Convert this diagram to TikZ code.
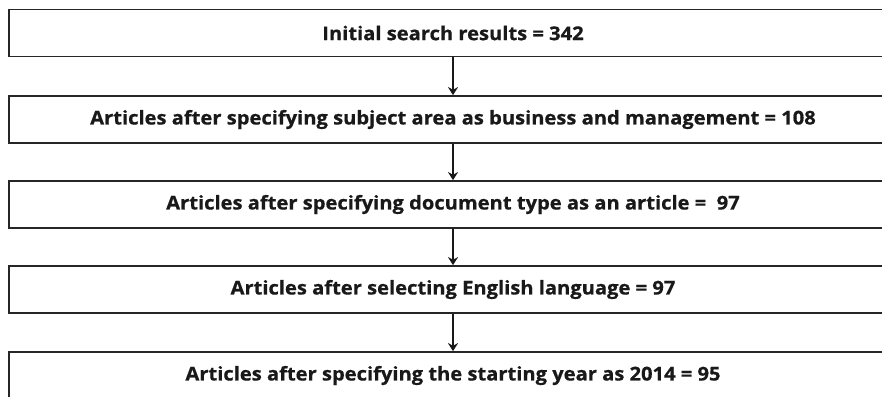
\documentclass[tikz,border=0pt]{standalone}
\usepackage{fontspec}
\setmainfont{Open Sans}[BoldFeatures={FakeStretch=1.06,FakeBold=0.6}]
\usetikzlibrary{arrows.meta}
\tikzset{
  stagebox/.style={draw=black!85, line width=1.7pt, minimum width=888pt, minimum height=47pt,
    inner sep=0pt, font=\bfseries\fontsize{19}{22}\selectfont, text=black!90},
  flowarrow/.style={draw=black!90, line width=1.7pt, -{Stealth[length=8pt,width=10pt,inset=2.5pt]}}
}
\begin{document}
\begin{tikzpicture}[x=1pt,y=-1pt]
\useasboundingbox (0,0) rectangle (882,396);
\clip (0,0) rectangle (882,396);
\fill[white] (0,0) rectangle (882,396);
\node[stagebox] (s1) at (453,33)    {Initial search results = 342};
\node[stagebox] (s2) at (453,119.5) {Articles after specifying subject area as business and management = 108};
\node[stagebox] (s3) at (453,204.5) {Articles after specifying document type as an article =\ \ 97};
\node[stagebox] (s4) at (453,289.5) {Articles after selecting English language = 97};
\node[stagebox] (s5) at (453,375.5) {Articles after specifying the starting year as 2014 = 95};
\draw[flowarrow] (s1) -- (s2);
\draw[flowarrow] (s2) -- (s3);
\draw[flowarrow] (s3) -- (s4);
\draw[flowarrow] (s4) -- (s5);
\end{tikzpicture}
\end{document}
